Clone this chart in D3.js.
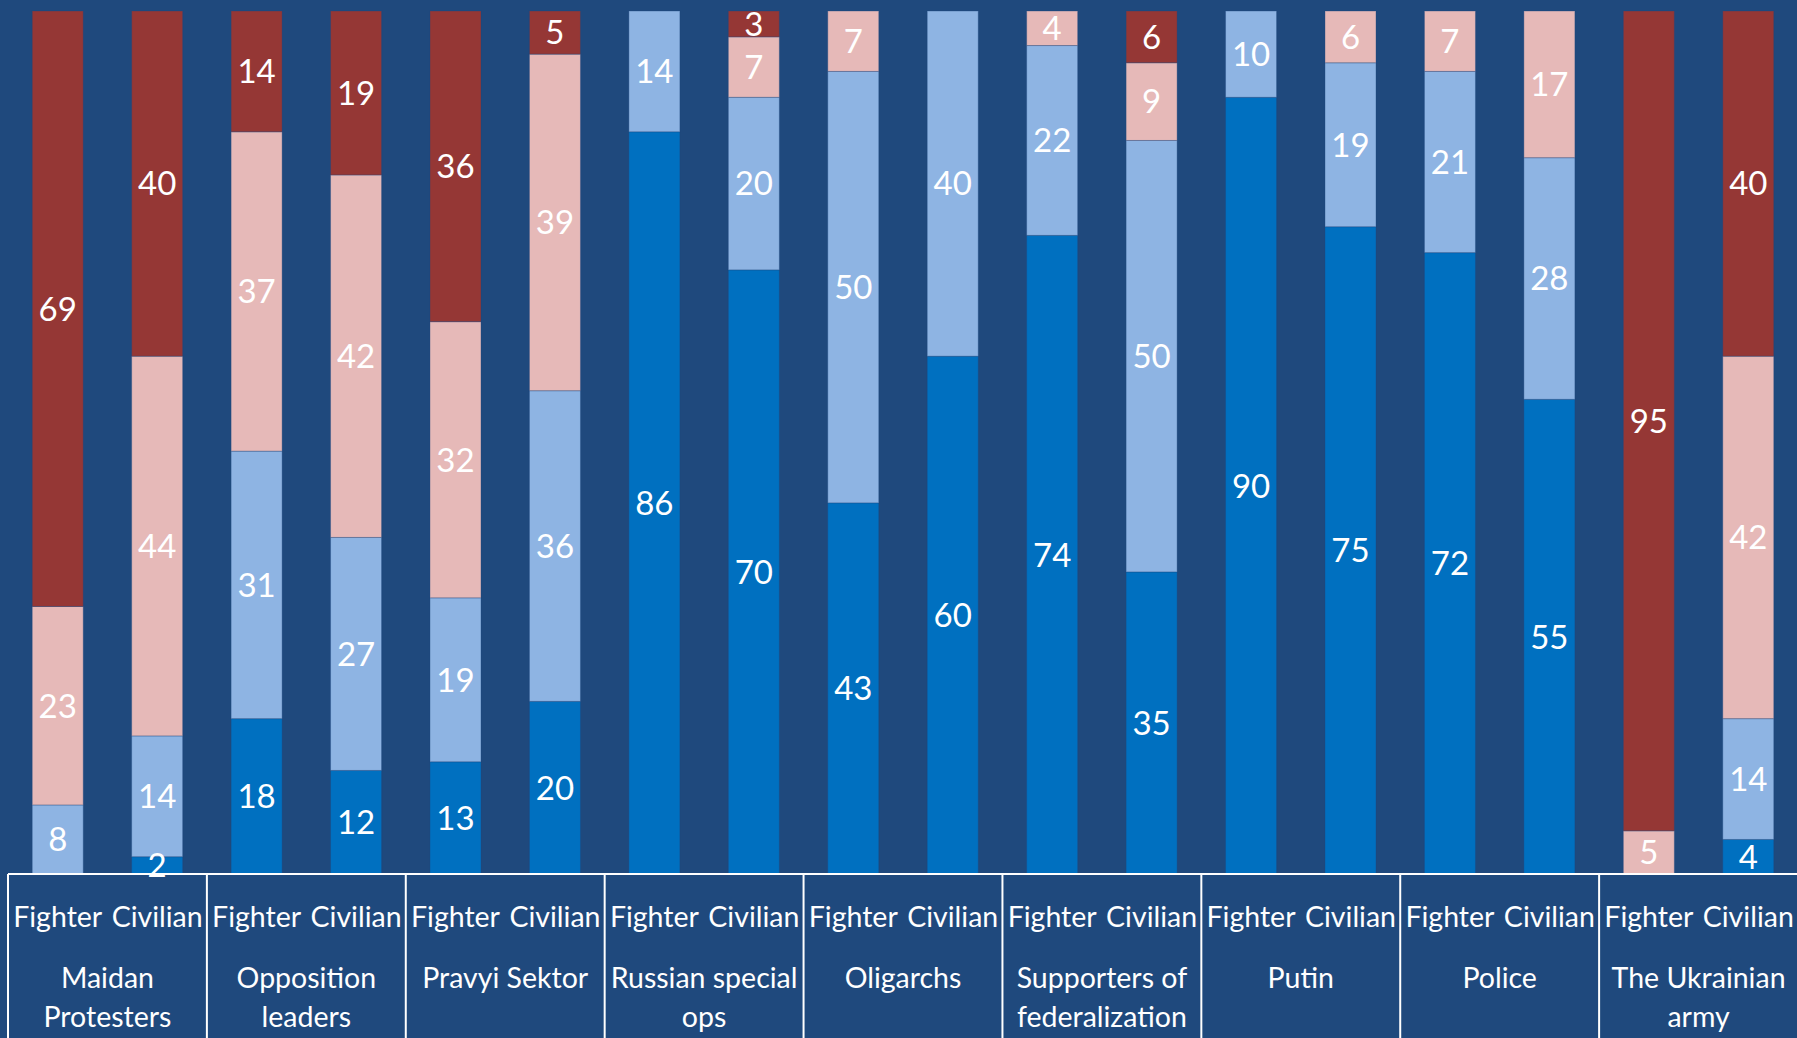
<!DOCTYPE html>
<html>
<head>
<meta charset="utf-8">
<script src="https://cdn.jsdelivr.net/npm/d3@7"></script>
<style>
  html, body { margin: 0; padding: 0; background: #1F497D; overflow: hidden; }
  svg { display: block; font-family: Lato, "Open Sans", sans-serif; }
</style>
</head>
<body>
<div id="chart"></div>
<script>
const width = 1797, height = 1038;

// categories (groups) and the two bars in each group
const categories = ["Maidan Protesters", "Opposition leaders", "Pravyi Sektor", "Russian special ops",
  "Oligarchs", "Supporters of federalization", "Putin", "Police", "The Ukrainian army"];
const subgroups = ["Fighter", "Civilian"];

// stacked series, bottom to top, one value per bar (Fighter, Civilian per group)
const seriesNames = ["s1", "s2", "s3", "s4"];
const s1 = [0, 2, 18, 12, 13, 20, 86, 70, 43, 60, 74, 35, 90, 75, 72, 55, 0, 4];
const s2 = [8, 14, 31, 27, 19, 36, 14, 20, 50, 40, 22, 50, 10, 19, 21, 28, 0, 14];
const s3 = [23, 44, 37, 42, 32, 39, 0, 7, 7, 0, 4, 9, 0, 6, 7, 17, 5, 42];
const s4 = [69, 40, 14, 19, 36, 5, 0, 3, 0, 0, 0, 6, 0, 0, 0, 0, 95, 40];
const colors = ["#0070C0", "#8EB4E3", "#E6B9B8", "#953735"];

let margin = {top: 11, left: 8, right: 0, axis: 874};

let rows = [];
categories.forEach((c, i) => {
  subgroups.forEach((s, j) => {
    let k = i * 2 + j;
    rows.push({key: c + "|" + s, cat: c, sub: s, s1: s1[k], s2: s2[k], s3: s3[k], s4: s4[k]});
  });
});

let svg = d3.select("#chart").append("svg")
    .attr("width", width)
    .attr("height", height);

svg.append("rect").attr("width", width).attr("height", height).attr("fill", "#1F497D");

let x = d3.scaleBand()
    .domain(rows.map(d => d.key))
    .range([margin.left, 1798])
    .paddingInner(0.487)
    .paddingOuter(0.2435);

let y = d3.scaleLinear()
    .domain([0, 100])
    .range([margin.axis, margin.top]);

let stacked = d3.stack().keys(seriesNames)(rows);

let layers = svg.append("g").selectAll("g")
    .data(stacked)
    .enter().append("g")
    .attr("fill", (d, i) => colors[i]);

layers.selectAll("rect")
    .data(d => d)
    .enter().append("rect")
    .attr("x", d => x(d.data.key))
    .attr("y", d => y(d[1]))
    .attr("width", x.bandwidth())
    .attr("height", d => y(d[0]) - y(d[1]))
    .attr("stroke", "#1F497D")
    .attr("stroke-opacity", 0.35)
    .attr("stroke-width", 1);

// value labels
let labels = svg.append("g");
stacked.forEach(layer => {
  labels.selectAll(null)
      .data(layer.filter(d => d[1] - d[0] > 0))
      .enter().append("text")
      .attr("x", d => x(d.data.key) + x.bandwidth() / 2)
      .attr("y", d => (y(d[0]) + y(d[1])) / 2)
      .attr("dy", "0.36em")
      .attr("text-anchor", "middle")
      .attr("fill", "white")
      .style("font-size", "33px")
      .text(d => d[1] - d[0]);
});

// axis line
svg.append("line")
    .attr("x1", margin.left).attr("x2", width)
    .attr("y1", margin.axis).attr("y2", margin.axis)
    .attr("stroke", "white").attr("stroke-width", 2);

// group separators
let groupW = x.step() * 2;
let groupX = i => margin.left + i * groupW;
svg.append("g").selectAll("line")
    .data(d3.range(categories.length + 1))
    .enter().append("line")
    .attr("x1", i => groupX(i)).attr("x2", i => groupX(i))
    .attr("y1", margin.axis).attr("y2", height)
    .attr("stroke", "white").attr("stroke-width", 2);

// Fighter / Civilian labels
svg.append("g").selectAll("text")
    .data(rows)
    .enter().append("text")
    .attr("x", d => x(d.key) + x.bandwidth() / 2)
    .attr("y", 917)
    .attr("dy", "0.36em")
    .attr("text-anchor", "middle")
    .attr("fill", "white")
    .style("font-size", "28.5px")
    .text(d => d.sub);

// category labels, wrapped to group width
let catText = svg.append("g").selectAll("text")
    .data(categories)
    .enter().append("text")
    .attr("text-anchor", "middle")
    .attr("fill", "white")
    .style("font-size", "28.5px");

catText.each(function(c, i) {
  let t = d3.select(this);
  let cx = groupX(i) + groupW / 2;
  let words = c.split(" ");
  let lines = [], line = [];
  let probe = t.append("tspan");
  words.forEach(w => {
    let test = line.concat([w]).join(" ");
    probe.text(test);
    if (probe.node().getComputedTextLength() > groupW - 2 && line.length) {
      lines.push(line.join(" "));
      line = [w];
    } else {
      line.push(w);
    }
  });
  lines.push(line.join(" "));
  probe.remove();
  lines.forEach((l, k) => {
    t.append("tspan")
        .attr("x", cx)
        .attr("y", 978 + k * 38.5)
        .attr("dy", "0.36em")
        .text(l);
  });
});
</script>
</body>
</html>
